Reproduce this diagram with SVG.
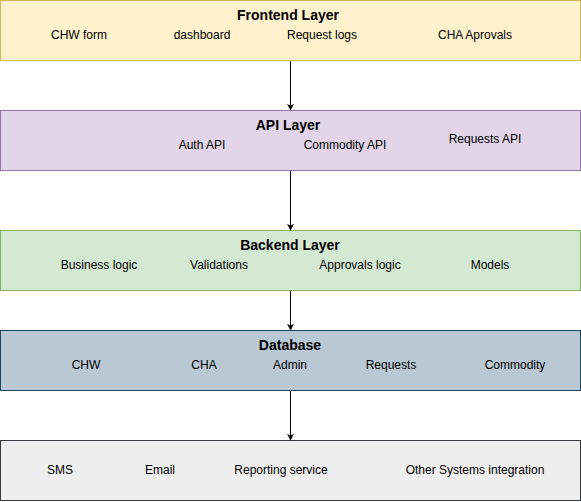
<svg xmlns="http://www.w3.org/2000/svg" width="581" height="502" viewBox="0 0 581 502">
<defs>
<style>
text{font-family:"Liberation Sans",Arial,sans-serif;font-size:12px;fill:#000;text-anchor:middle}
.t{font-weight:bold;font-size:14px}
.c{stroke:#000;stroke-width:1;fill:none}
</style>
<marker id="ah" viewBox="0 0 10 10" refX="9" refY="5" markerWidth="7" markerHeight="7" markerUnits="userSpaceOnUse" orient="auto"><path d="M0,0 L10,5 L0,10 L3,5 Z" fill="#000"/></marker>
</defs>
<rect width="581" height="502" fill="#fff"/>
<g id="frontend">
<rect x="0.5" y="0.5" width="580" height="60" fill="#fff2cc" stroke="#d6b656"/>
<text class="t" x="288" y="20">Frontend Layer</text>
<text x="79" y="39">CHW form</text>
<text x="202" y="39">dashboard</text>
<text x="322" y="39">Request logs</text>
<text x="475" y="39">CHA Aprovals</text>
</g>
<g id="api">
<rect x="0.5" y="110.5" width="580" height="60" fill="#e1d5e7" stroke="#9673a6"/>
<text class="t" x="288" y="130">API Layer</text>
<text x="202" y="149">Auth API</text>
<text x="345" y="149">Commodity API</text>
<text x="485" y="143">Requests API</text>
</g>
<g id="backend">
<rect x="0.5" y="230.5" width="580" height="60" fill="#d5e8d4" stroke="#82b366"/>
<text class="t" x="290" y="250">Backend Layer</text>
<text x="99" y="269">Business logic</text>
<text x="219" y="269">Validations</text>
<text x="360" y="269">Approvals logic</text>
<text x="490" y="269">Models</text>
</g>
<g id="database">
<rect x="0.5" y="330.5" width="580" height="60" fill="#bac8d3" stroke="#23445d"/>
<text class="t" x="290" y="350">Database</text>
<text x="86" y="369">CHW</text>
<text x="204" y="369">CHA</text>
<text x="290" y="369">Admin</text>
<text x="391" y="369">Requests</text>
<text x="515" y="369">Commodity</text>
</g>
<g id="services">
<rect x="0.5" y="440.5" width="580" height="60" fill="#eeeeee" stroke="#36393d"/>
<text x="60" y="474">SMS</text>
<text x="160" y="474">Email</text>
<text x="281" y="474">Reporting service</text>
<text x="475" y="474">Other Systems integration</text>
</g>
<g id="connectors">
<line class="c" x1="290.5" y1="61" x2="290.5" y2="110" marker-end="url(#ah)"/>
<line class="c" x1="290.5" y1="171" x2="290.5" y2="230" marker-end="url(#ah)"/>
<line class="c" x1="290.5" y1="291" x2="290.5" y2="330" marker-end="url(#ah)"/>
<line class="c" x1="290.5" y1="391" x2="290.5" y2="440" marker-end="url(#ah)"/>
</g>
</svg>
